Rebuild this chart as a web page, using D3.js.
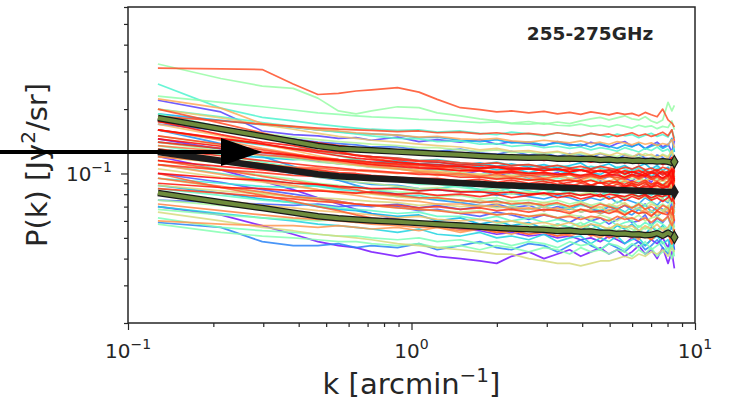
<!DOCTYPE html>
<html>
<head>
<meta charset="utf-8">
<script src="https://cdn.jsdelivr.net/npm/d3@7"></script>
<style>
  body { margin: 0; background: #fff; }
  svg { display: block; }
</style>
</head>
<body>
<svg id="chart" width="733" height="402"></svg>
<script>
// Wavenumber bins [arcmin^-1]
const k = [0.1275,0.2125,0.2975,0.3825,0.4675,0.5525,0.6375,0.7225,0.8925,1.0625,1.2325,1.4875,1.7425,1.9975,2.2525,2.5925,2.9325,3.2725,3.6125,3.9525,4.2925,4.6325,4.9725,5.3125,5.6525,5.9925,6.3325,6.6725,7.0125,7.3525,7.6925,8.0325,8.2875,8.4575];

// Position of each spectrum in the rainbow colormap (spectra are drawn in this order)
const spectrumColor = [0.02,0.05,0.08,0.11,0.14,0.17,0.2,0.23,0.25,0.28,
  0.31,0.34,0.37,0.40,0.42,0.44,0.46,
  0.49,0.51,0.53,0.55,0.56,0.58,0.60,0.62,
  0.65,0.67,0.69,0.71,0.73,0.75,
  0.77,0.79,0.81,0.83,0.85,0.87,
  0.88,0.885,0.9,0.91,0.92,0.93,0.94,0.95,0.96,0.97,0.98,0.99,0.995,1.0,
  0.03,0.12,0.19,0.27,0.36,0.47,0.52,0.57,0.63,0.68,0.74,0.8,0.86,0.905,0.935,0.955,0.975,0.985];

// Individual power spectra, in units of 1e-3 Jy^2/sr
const spectra = [
  [70,64,57,52,48,46,45,43,41,43,41,40,39,38,41,43,40,42,44,41,43,45,42,44,41,43,46,42,44,40,45,38,43,36],
  [145,130,122,119,114,111,110,107,107,103,105,99,103,97,101,95,98,101,94,96,99,93,97,100,95,92,98,96,91,99,94,97,104,88],
  [220,194,158,152,150,146,147,143,148,141,144,140,144,137,141,138,135,141,137,134,140,136,133,138,141,134,137,131,136,140,133,137,126,142],
  [100,91,84,80,77,74,72,71,70,67,68,65,63,66,64,61,64,62,59,63,60,62,58,61,63,59,60,64,57,62,59,63,55,60],
  [170,159,150,145,140,138,136,133,133,129,127,130,125,123,127,122,125,120,124,122,118,124,120,117,122,119,123,118,116,122,119,114,126,112],
  [59,56,48,46,46,47,45,46,45,47,44,46,48,45,44,47,46,43,46,49,46,44,47,45,43,46,48,44,46,49,45,42,48,44],
  [125,113,105,100,96,93,91,89,88,85,84,82,83,79,81,78,76,79,77,74,77,75,78,73,76,74,72,77,74,71,76,73,80,69],
  [190,177,169,164,160,157,154,153,151,147,148,143,141,144,139,140,136,139,135,137,133,138,134,131,136,133,138,130,134,137,131,135,146,126],
  [88,81,76,73,70,68,67,65,63,64,60,62,58,60,57,59,55,58,56,54,58,55,53,57,55,58,54,52,56,54,57,51,58,49],
  [140,131,125,121,118,116,114,113,112,109,110,106,108,104,106,101,105,103,100,104,101,99,104,100,102,98,101,104,97,101,99,103,94,106],
  [70,65,62,60,58,57,56,55,53,55,52,51,53,50,51,49,52,48,50,51,47,50,48,51,47,49,50,46,49,51,47,49,44,50],
  [160,144,136,131,127,124,122,120,118,115,116,112,110,113,109,110,106,109,107,104,108,106,103,107,105,102,106,104,101,106,103,100,111,97],
  [110,100,94,90,87,84,83,81,78,79,76,75,73,75,71,73,70,72,68,71,70,67,71,69,66,70,68,71,66,69,67,70,63,72],
  [262,202,183,176,170,166,163,161,159,160,156,158,154,152,156,153,150,155,152,149,154,151,148,153,150,152,147,151,154,149,152,148,160,146],
  [200,184,173,166,160,156,153,150,146,145,141,142,137,138,134,136,132,134,131,133,129,132,130,127,132,129,126,131,128,133,127,130,122,134],
  [85,79,75,73,71,69,68,67,65,66,63,63,61,63,60,62,59,61,59,57,60,58,61,57,59,60,56,59,57,60,58,55,62,56],
  [135,122,113,107,102,98,96,94,92,89,89,86,84,86,83,81,84,80,82,79,81,78,82,79,77,81,78,80,76,80,77,81,73,84],
  [62,56,54,53,52,51,51,50,49,50,48,49,47,48,46,48,47,45,48,46,47,44,47,46,44,47,45,48,44,46,48,43,47,41],
  [58,53,51,50,49,48,48,47,46,47,45,46,44,46,45,43,45,44,42,45,43,44,42,44,43,41,44,42,45,41,43,45,40,44],
  [230,215,205,198,192,189,186,184,182,179,178,175,173,174,171,170,172,168,167,170,166,168,165,169,166,163,168,165,167,162,166,164,176,160],
  [325,278,256,250,225,196,190,196,205,203,192,186,180,176,172,175,170,174,171,176,180,183,178,182,186,180,178,184,176,172,178,215,196,208],
  [115,105,98,94,90,88,86,84,82,81,78,79,76,77,74,75,73,75,72,74,71,73,70,74,72,69,73,71,74,70,72,69,77,66],
  [75,71,68,66,64,63,62,61,60,58,59,57,58,56,57,55,57,56,54,57,55,53,56,54,57,55,53,56,54,52,56,54,50,57],
  [175,162,154,148,144,141,139,137,135,132,132,129,127,129,125,126,123,126,122,124,121,125,122,120,124,121,119,124,121,118,123,120,127,116],
  [95,86,81,78,75,73,72,71,69,68,67,66,67,64,65,63,65,62,64,63,61,64,62,60,63,61,64,60,62,63,60,62,58,64],
  [150,136,126,120,115,111,109,107,105,102,101,98,97,98,95,93,95,92,94,91,93,90,92,89,93,90,88,92,89,91,87,90,84,93],
  [66,60,56,54,52,51,50,49,47,46,45,44,43,42,42,40,39,38,38,37,38,39,39,40,41,40,42,41,43,42,44,41,45,43],
  [105,96,91,87,84,82,81,80,78,76,77,74,75,72,74,71,73,72,70,73,71,69,72,70,73,69,71,68,72,70,67,71,65,73],
  [200,182,169,161,154,149,146,143,140,137,135,133,129,131,127,128,125,127,123,126,122,124,121,125,122,119,124,121,123,119,122,118,128,115],
  [80,75,71,69,67,66,65,64,62,63,61,60,61,59,60,58,59,57,59,56,58,57,55,58,56,57,54,57,55,58,54,56,60,52],
  [130,118,111,106,103,100,98,97,95,93,94,91,89,91,88,89,86,88,86,85,88,85,87,84,86,88,84,86,83,87,85,82,90,80],
  [223,202,171,165,160,158,155,153,151,148,149,145,144,146,142,140,143,141,139,142,138,140,137,141,139,136,140,137,139,135,138,136,144,132],
  [110,99,92,88,84,81,79,77,75,74,72,72,70,71,68,69,67,69,66,68,67,65,68,66,64,67,65,68,64,66,65,67,61,68],
  [160,143,131,124,118,113,110,108,105,102,101,98,97,95,96,93,95,92,94,91,93,90,92,89,92,90,88,91,89,92,88,90,84,94],
  [72,67,64,62,61,60,59,58,57,56,56,54,55,53,54,52,54,53,51,53,52,50,53,51,52,50,53,51,49,52,50,53,47,52],
  [135,127,122,119,116,114,113,112,110,109,107,108,105,107,104,105,103,105,102,104,101,104,102,100,103,101,104,100,102,99,103,101,108,96],
  [95,87,82,78,76,74,72,71,69,68,67,65,66,64,65,63,64,62,63,61,63,62,60,63,61,62,60,62,59,62,60,63,57,61],
  [100,86,79,74,70,67,64,62,60,58,57,55,55,53,54,52,53,51,52,54,51,53,50,52,51,53,50,52,49,52,50,53,47,55],
  [115,104,97,92,89,86,84,81,79,77,77,75,73,74,72,73,71,73,70,72,69,72,70,68,71,69,72,68,70,67,71,69,64,72],
  [311,308,306,262,234,237,243,246,252,240,222,203,199,194,196,192,195,190,193,189,194,191,188,192,189,191,186,193,188,184,200,178,172,165],
  [185,176,170,166,163,161,160,159,157,158,155,156,153,155,152,154,151,155,152,150,154,151,153,149,152,155,150,153,149,152,156,150,160,142],
  [150,137,129,123,119,116,114,112,110,107,106,103,103,100,101,98,99,97,99,96,98,95,97,96,94,97,95,98,94,96,93,97,90,103],
  [85,81,78,76,74,73,72,71,71,69,70,68,69,67,68,66,68,67,65,68,66,67,65,67,64,67,65,66,63,67,65,64,70,60],
  [160,145,137,131,127,124,122,120,118,115,115,112,111,112,109,110,107,109,106,108,105,108,106,104,107,105,108,104,106,103,107,105,98,109],
  [130,121,115,111,108,106,104,103,101,99,99,96,96,94,95,93,94,92,93,91,93,90,92,91,89,92,90,93,89,91,88,92,97,85],
  [140,131,125,121,118,116,115,113,111,110,108,108,106,107,104,105,103,105,102,104,101,103,101,104,100,102,99,103,100,102,98,101,94,104],
  [175,152,140,135,128,126,121,120,116,114,113,110,109,108,107,105,106,104,105,103,104,102,104,101,103,101,103,100,102,104,100,102,95,107],
  [115,108,104,101,99,97,96,95,94,92,93,90,91,89,90,88,89,87,89,87,88,86,88,86,87,88,85,87,86,88,85,87,92,82],
  [145,134,126,122,117,115,112,110,108,106,105,103,103,101,102,100,101,99,100,98,100,97,99,98,96,99,97,100,96,98,95,99,104,92],
  [175,160,150,144,139,135,132,130,127,125,124,121,120,119,117,118,115,117,114,116,113,115,113,116,112,114,111,115,112,114,110,113,119,106],
  [100,95,93,90,89,87,86,85,85,83,84,82,82,81,82,80,81,80,81,79,80,78,80,79,78,80,78,80,77,79,78,80,74,84],
  [120,104,92,84,77,72,68,65,61,58,57,55,54,52,53,51,52,50,51,49,50,48,51,49,47,50,48,46,49,47,50,45,52,44],
  [75,73,72,71,72,70,71,70,72,69,71,68,70,72,69,71,67,70,68,72,69,66,70,68,71,67,69,72,66,70,68,65,73,67],
  [160,138,120,108,99,93,88,84,80,77,75,73,71,70,69,68,70,67,69,66,68,65,67,69,66,64,68,65,67,63,66,69,61,67],
  [130,122,119,116,118,114,116,112,115,111,113,109,112,108,111,107,110,106,109,112,105,108,111,106,109,104,108,111,105,109,103,107,99,110],
  [95,90,87,86,88,85,87,84,86,83,85,88,84,82,86,83,80,84,81,85,82,79,83,80,84,81,78,82,79,83,80,77,86,75],
  [190,165,148,137,128,121,116,112,107,103,101,98,97,95,96,94,92,95,93,91,94,92,90,93,91,89,92,90,88,91,89,92,85,94],
  [68,64,62,61,60,61,59,60,58,60,57,59,56,58,60,57,55,58,56,59,55,57,54,58,56,53,57,55,58,54,56,53,59,52],
  [140,128,121,117,113,111,109,107,105,103,104,101,99,102,98,100,97,99,95,98,96,94,97,95,98,94,96,93,97,94,92,96,89,99],
  [120,112,105,101,96,94,91,90,87,85,86,83,82,84,80,82,79,81,78,80,82,78,76,79,77,80,76,78,75,79,76,74,82,72],
  [88,83,80,78,77,76,75,74,73,71,72,70,71,69,70,68,70,67,69,66,68,70,66,68,65,67,69,65,67,64,66,69,62,67],
  [170,150,137,128,121,116,112,110,106,104,102,100,99,97,98,96,94,97,95,93,96,94,92,95,93,91,94,92,95,90,93,91,97,88],
  [60,58,57,57,56,57,56,55,56,54,56,53,55,54,52,55,53,51,54,52,55,51,53,50,54,52,49,53,51,54,50,52,47,55],
  [120,113,110,107,106,104,103,102,100,101,98,100,97,99,96,98,95,97,99,94,97,95,98,93,96,99,94,97,95,92,96,94,100,90],
  [200,172,155,143,134,127,122,118,113,110,108,105,104,102,103,100,101,99,100,97,99,96,98,100,95,98,96,99,94,97,95,98,103,91],
  [110,104,101,98,97,95,95,93,94,92,93,90,92,89,91,88,90,92,87,90,88,91,86,89,87,90,85,89,87,91,86,88,95,83],
  [125,116,111,106,104,101,100,98,96,95,95,92,94,91,93,90,92,89,91,93,88,91,89,92,87,90,88,91,86,90,88,86,93,84],
  [90,86,85,83,83,82,81,82,80,81,79,80,78,80,77,79,81,77,79,76,78,80,76,78,75,78,76,79,75,77,74,77,83,72],
  [160,146,138,130,125,121,118,116,113,111,110,108,106,107,105,106,103,105,102,104,101,103,100,103,99,102,100,97,101,99,102,97,105,94]
];

// Summary curves, in units of 1e-3 Jy^2/sr
const median = [126,114.7,107.9,103,99.2,97,95.9,95.1,93.7,92.5,91.5,90.2,89.3,88.3,87.8,87.1,86.6,86,85.5,85.1,84.8,84.4,84.1,83.8,83.5,83.2,83,82.8,82.6,82.4,82.2,82.1,82,81.9];
const upper = [181.7,161.4,149.5,141.1,134.5,130.8,129.5,128.4,126.5,125,123.8,122.2,120.8,119.6,119,118.4,118.9,117.2,117.6,116.8,117.1,115.6,116.2,115,115.6,114.5,115.1,114.2,114.6,113.6,114.2,113.4,112.2,113.5];
const lower = [81.1,73.4,68.9,65.6,63.1,61.7,61,60.3,59.4,58.6,57.9,57.1,56.4,55.8,55.3,54.8,54.6,53.8,54.1,53.4,53.5,52.8,52.9,52.2,52.4,51.8,52,51.4,51.7,52.6,51.2,52.9,51.5,50.3];

// Axis ticks
const xTicks = [0.1, 1, 10];
const xTickExp = ["\u22121", "0", "1"];
const xMinor = [0.2,0.3,0.4,0.5,0.6,0.7,0.8,0.9,2,3,4,5,6,7,8,9];
const yTicks = [0.1];
const yTickExp = ["\u22121"];
const yMinor = [0.02,0.03,0.04,0.05,0.06,0.07,0.08,0.09,0.2,0.3,0.4,0.5,0.6];

const bandTitle = "255-275GHz";

// Annotation arrow (data coordinates)
const arrowFromK = 0.035, arrowToK = 0.297, arrowP = 0.126;

// ---------------------------------------------------------------
const box = { left: 128, right: 695, top: 7, bottom: 323 };
const ink = "#262626";
const font = "'DejaVu Sans', sans-serif";

const x = d3.scaleLog().domain([0.1, 10]).range([box.left, box.right]);
const y = d3.scaleLog().domain([0.02, 0.6]).range([box.bottom, box.top]);

// matplotlib "rainbow" colormap
function rainbow(t) {
  const r = Math.min(1, Math.abs(2 * t - 0.5));
  const g = Math.sin(Math.PI * t);
  const b = Math.max(0, Math.cos(Math.PI * t / 2));
  return d3.rgb(r * 255, g * 255, b * 255).formatHex();
}

const svg = d3.select("#chart");
svg.append("rect").attr("width", 733).attr("height", 402).attr("fill", "#fff");

svg.append("defs").append("clipPath").attr("id", "plotArea")
  .append("rect")
  .attr("x", box.left).attr("y", box.top)
  .attr("width", box.right - box.left).attr("height", box.bottom - box.top);

const line = d3.line()
  .x((d, i) => x(k[i]))
  .y(d => y(d / 1000));

const plot = svg.append("g").attr("clip-path", "url(#plotArea)");

// spectra ordered along the colormap, red ones on top
const order = d3.range(spectra.length).sort((a, b) => spectrumColor[a] - spectrumColor[b]);

plot.selectAll("path.spectrum")
  .data(order)
  .join("path")
  .attr("class", "spectrum")
  .attr("d", i => line(spectra[i]))
  .attr("fill", "none")
  .attr("stroke", i => rainbow(spectrumColor[i]))
  .attr("stroke-width", 1.7)
  .attr("stroke-opacity", 0.85)
  .attr("stroke-linejoin", "round");

// Percentile curves: olive with dark outline
const diamond = d3.symbol().type(d3.symbolDiamond);
const last = k.length - 1;
[upper, lower].forEach(series => {
  plot.append("path").attr("d", line(series))
    .attr("fill", "none").attr("stroke", "#1a1a1a").attr("stroke-width", 6.5)
    .attr("stroke-linejoin", "round");
  plot.append("path").attr("d", line(series))
    .attr("fill", "none").attr("stroke", "#6e8c3c").attr("stroke-width", 4)
    .attr("stroke-linejoin", "round");
  svg.append("path").attr("d", diamond.size(45)())
    .attr("transform", `translate(${x(k[last])},${y(series[last] / 1000)})`)
    .attr("fill", "#6e8c3c").attr("stroke", "#1a1a1a").attr("stroke-width", 1.2);
});

// Median curve
plot.append("path").attr("d", line(median))
  .attr("fill", "none").attr("stroke", "#1c1c1c").attr("stroke-width", 6.5)
  .attr("stroke-linejoin", "round");
svg.append("path").attr("d", diamond.size(70)())
  .attr("transform", `translate(${x(k[last])},${y(median[last] / 1000)})`)
  .attr("fill", "#1c1c1c");

// Spines
svg.append("rect")
  .attr("x", box.left).attr("y", box.top)
  .attr("width", box.right - box.left).attr("height", box.bottom - box.top)
  .attr("fill", "none").attr("stroke", ink).attr("stroke-width", 1.5);

// Ticks
function styleAxis(g) {
  g.select(".domain").remove();
  g.selectAll(".tick line").attr("stroke", ink).attr("stroke-width", 1.2);
}
svg.append("g").attr("transform", `translate(0,${box.bottom})`)
  .call(d3.axisBottom(x).tickValues(xTicks).tickSize(7).tickFormat(""))
  .call(styleAxis);
svg.append("g").attr("transform", `translate(0,${box.bottom})`)
  .call(d3.axisBottom(x).tickValues(xMinor).tickSize(4).tickFormat(""))
  .call(styleAxis);
svg.append("g").attr("transform", `translate(${box.left},0)`)
  .call(d3.axisLeft(y).tickValues(yTicks).tickSize(7).tickFormat(""))
  .call(styleAxis);
svg.append("g").attr("transform", `translate(${box.left},0)`)
  .call(d3.axisLeft(y).tickValues(yMinor).tickSize(4).tickFormat(""))
  .call(styleAxis);

// Tick labels (powers of ten)
xTicks.forEach((v, i) => {
  const t = svg.append("text")
    .attr("x", x(v)).attr("y", 358)
    .attr("text-anchor", "middle")
    .attr("font-family", font).attr("font-size", 20).attr("fill", ink);
  t.append("tspan").text("10");
  t.append("tspan").attr("dy", -9).attr("font-size", 14).text(xTickExp[i]);
});
yTicks.forEach((v, i) => {
  const t = svg.append("text")
    .attr("x", 112).attr("y", y(v) + 8)
    .attr("text-anchor", "end")
    .attr("font-family", font).attr("font-size", 20).attr("fill", ink);
  t.append("tspan").text("10");
  t.append("tspan").attr("dy", -9).attr("font-size", 14).text(yTickExp[i]);
});

// Axis titles
const xl = svg.append("text")
  .attr("x", (box.left + box.right) / 2).attr("y", 394)
  .attr("text-anchor", "middle")
  .attr("font-family", font).attr("font-size", 29).attr("fill", ink);
xl.append("tspan").text("k [arcmin");
xl.append("tspan").attr("dy", -12).attr("font-size", 20).text("\u22121");
xl.append("tspan").attr("dy", 12).text("]");

const yl = svg.append("text")
  .attr("transform", "translate(47,165) rotate(-90)")
  .attr("text-anchor", "middle")
  .attr("font-family", font).attr("font-size", 29).attr("fill", ink);
yl.append("tspan").text("P(k) [Jy");
yl.append("tspan").attr("dy", -12).attr("font-size", 20).text("2");
yl.append("tspan").attr("dy", 12).text("/sr]");

// Band label
svg.append("text")
  .attr("x", 590).attr("y", 40)
  .attr("text-anchor", "middle")
  .attr("font-family", font).attr("font-size", 18.5).attr("font-weight", "bold")
  .attr("fill", ink)
  .text(bandTitle);

// Arrow pointing at the low-k end of the spectra
const ay = y(arrowP), ax0 = x(arrowFromK), ax1 = x(arrowToK);
svg.append("line")
  .attr("x1", ax0).attr("x2", ax1 - 38).attr("y1", ay).attr("y2", ay)
  .attr("stroke", "#000").attr("stroke-width", 4);
svg.append("path")
  .attr("d", `M${ax1},${ay} L${ax1 - 41},${ay - 14} L${ax1 - 41},${ay + 14} Z`)
  .attr("fill", "#000");
</script>
</body>
</html>
